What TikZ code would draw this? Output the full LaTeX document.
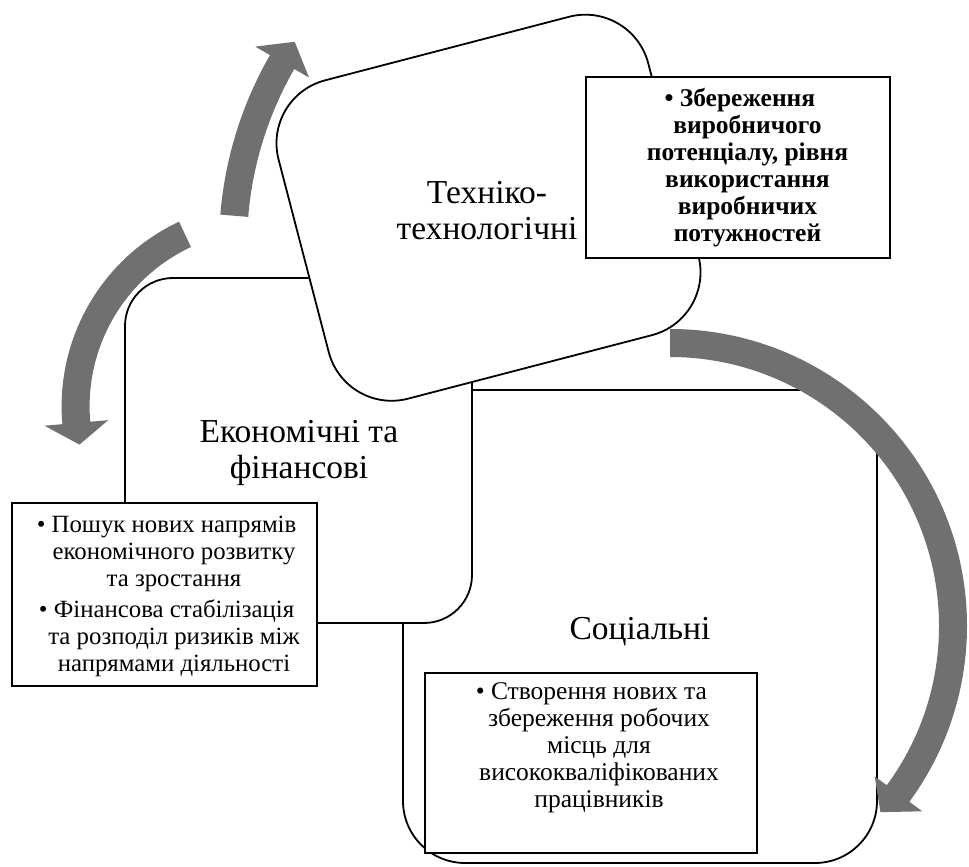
\documentclass[tikz,border=0pt]{standalone}
\usepackage{fontspec}
\setmainfont{Liberation Serif}
\definecolor{arrowgray}{RGB}{112,112,112}
\tikzset{
  shapebox/.style={draw=black, line width=1.8pt, fill=white, inner sep=0pt},
  notebox/.style={draw=black, line width=2.6pt, fill=white, inner sep=0pt},
  biglabel/.style={font=\fontsize{33.5}{36}\selectfont, inner sep=0pt, anchor=base},
  notetext/.style={font=\fontsize{25.5}{27}\selectfont, inner sep=0pt, anchor=base},
  boldtext/.style={font=\fontsize{25.5}{27}\selectfont\bfseries, inner sep=0pt, anchor=base},
  bandarrow/.style={fill=arrowgray}
}
\begin{document}
\begin{tikzpicture}[x=1pt,y=1pt]
\useasboundingbox (0,0) rectangle (969,867);
% main shapes
\node[shapebox, minimum width=474pt, minimum height=473pt, rounded corners=62pt] (soc) at (640,240.5) {};
\node[shapebox, minimum width=347pt, minimum height=345pt, rounded corners=48pt] (eco) at (298.5,416.5) {};
\node[shapebox, minimum width=382pt, minimum height=329pt, rounded corners=65pt, rotate=14.6] (tech) at (488.5,659.25) {};
% note boxes
\node[notebox, minimum width=304pt, minimum height=181pt] (techbox) at (738,699.5) {};
\node[notebox, minimum width=305pt, minimum height=183pt] (ecobox) at (164.5,272.5) {};
\node[notebox, minimum width=332pt, minimum height=180pt] (socbox) at (591,104) {};
% labels
\node[biglabel] (techlbl) at (487,663) {\begin{tabular}[t]{@{}c@{}}Техніко-\\технологічні\end{tabular}};
\node[biglabel] (ecolbl) at (299,424) {\begin{tabular}[t]{@{}c@{}}Економічні та\\фінансові\end{tabular}};
\node[biglabel] (soclbl) at (640,227) {Соціальні};
% note texts
\node[boldtext] (techtxt) at (747.5,760) {\begin{tabular}[t]{@{}c@{}}\llap{•\ }Збереження\\виробничого\\потенціалу, рівня\\використання\\виробничих\\потужностей\end{tabular}};
\node[notetext, font=\fontsize{24.8}{27}\selectfont] (ecotxt) at (174,334) {\begin{tabular}[t]{@{}c@{}}\llap{•\ }Пошук нових напрямів\\економічного розвитку\\та зростання\\[4pt]\llap{•\ }Фінансова стабілізація\\та розподіл ризиків між\\напрямами діяльності\end{tabular}};
\node[notetext] (soctxt) at (599,167) {\begin{tabular}[t]{@{}c@{}}\llap{•\ }Створення нових та\\збереження робочих\\місць для\\висококваліфікованих\\працівників\end{tabular}};
% arrows
\begin{scope}[shift={(602,621)}]
\fill[bandarrow] (175.3:383pt) arc[start angle=175.3, end angle=150.1, radius=383pt]
  -- (150.1:400pt) -- (146.4:369pt) -- (150.1:338pt) -- (150.1:355pt)
  arc[start angle=150.1, end angle=175.3, radius=355pt] -- cycle;
\end{scope}
\begin{scope}[shift={(265.6,460.6)}]
\fill[bandarrow] (115.1:204pt) arc[start angle=115.1, end angle=185, radius=204pt]
  -- (185:222pt) -- (191.6:190pt) -- (185:158pt) -- (185:176pt)
  arc[start angle=185, end angle=115.1, radius=176pt] -- cycle;
\end{scope}
\begin{scope}[shift={(670,241)}]
\fill[bandarrow] (90:297pt) arc[start angle=90, end angle=-36.3, radius=297pt]
  -- (-36.3:313pt) -- (-41.5:281pt) -- (-36.3:254pt) -- (-36.3:269pt)
  arc[start angle=-36.3, end angle=90, radius=269pt] -- cycle;
\end{scope}
\end{tikzpicture}
\end{document}
